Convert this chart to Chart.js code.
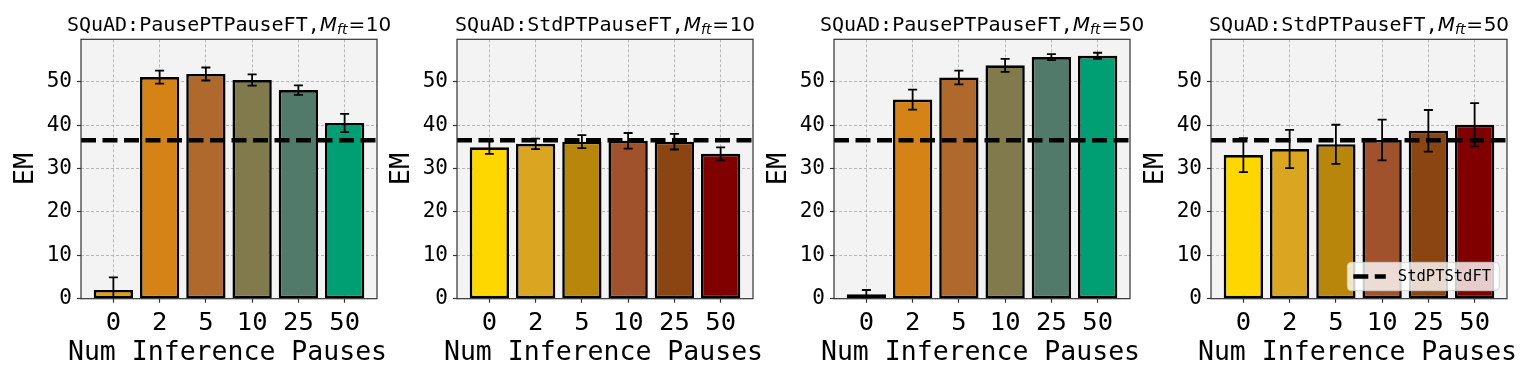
<!DOCTYPE html>
<html><head><meta charset="utf-8">
<script src="https://cdn.jsdelivr.net/npm/chart.js@4/dist/chart.umd.min.js"></script>
<style>
body{margin:0;background:#fff;width:1522px;height:381px;overflow:hidden;position:relative}
canvas{position:absolute;top:0}
</style>
</head><body>
<canvas id="c0" width="420" height="381" style="left:1px"></canvas>
<canvas id="c1" width="420" height="381" style="left:377px"></canvas>
<canvas id="c2" width="420" height="381" style="left:754px"></canvas>
<canvas id="c3" width="420" height="381" style="left:1131px"></canvas>
<script>
const categories = ['0', '2', '5', '10', '25', '50'];
const yTicks = [0, 10, 20, 30, 40, 50];
const xAxisTitle = 'Num Inference Pauses';
const yAxisTitle = 'EM';
const panelNames = ['PausePTPauseFT', 'StdPTPauseFT', 'PausePTPauseFT', 'StdPTPauseFT'];
const panelMft = ['10', '10', '50', '50'];
const emPausePT10 = [2.0, 51.1, 51.8, 50.4, 48.1, 40.5];
const errPausePT10 = [2.9, 1.5, 1.5, 1.3, 1.1, 2.1];
const emStdPT10 = [34.9, 35.7, 36.2, 36.4, 36.2, 33.4];
const errStdPT10 = [1.5, 1.2, 1.5, 1.8, 1.8, 1.5];
const emPausePT50 = [1.0, 45.9, 51.0, 53.8, 55.7, 56.0];
const errPausePT50 = [1.0, 2.3, 1.6, 1.5, 0.7, 0.7];
const emStdPT50 = [33.1, 34.5, 35.6, 36.6, 38.7, 40.1];
const errStdPT50 = [3.9, 4.4, 4.5, 4.7, 4.8, 5.0];
const baselineLabel = 'StdPTStdFT';
const baselineEM = 36.5;
const pauseColors = ['#E69F00', '#D58316', '#B0692D', '#807A4C', '#527A6A', '#009E73'];
const stdColors = ['#FFD700', '#DAA520', '#B8860B', '#A0522D', '#8B4513', '#800000'];

const panelValues = [emPausePT10, emStdPT10, emPausePT50, emStdPT50];
const panelErrors = [errPausePT10, errStdPT10, errPausePT50, errStdPT50];
const panelColors = [pauseColors, stdColors, pauseColors, stdColors];

const XMIN = -0.7, XMAX = categories.length - 0.3;
const MONO = 'DejaVu Sans Mono';

const framePlugin = {
  id: 'frame',
  beforeDraw(chart) {
    const a = chart.chartArea, ctx = chart.ctx;
    ctx.save();
    ctx.fillStyle = '#f3f3f3';
    ctx.fillRect(a.left, a.top, a.right - a.left, a.bottom - a.top);
    ctx.restore();
  },
  afterDraw(chart) {
    const a = chart.chartArea, ctx = chart.ctx;
    ctx.save();
    ctx.strokeStyle = '#333';
    ctx.lineWidth = 1.2;
    ctx.strokeRect(a.left, a.top, a.right - a.left, a.bottom - a.top);
    // x axis title (not width-constrained, as in the original)
    ctx.fillStyle = '#000';
    ctx.font = '26.5px "' + MONO + '"';
    ctx.textAlign = 'center';
    ctx.textBaseline = 'alphabetic';
    ctx.fillText(xAxisTitle, (a.left + a.right) / 2 - 1.5, 360);
    ctx.restore();
  }
};

const errorPlugin = {
  id: 'errbars',
  afterDatasetsDraw(chart, args, opts) {
    const ctx = chart.ctx, a = chart.chartArea;
    const xs = chart.scales.x, ys = chart.scales.y;
    const vals = opts.values, errs = opts.errors;
    ctx.save();
    ctx.beginPath();
    ctx.rect(a.left, a.top, a.right - a.left, a.bottom - a.top);
    ctx.clip();
    ctx.strokeStyle = '#000';
    ctx.lineWidth = 1.8;
    vals.forEach((v, i) => {
      const x = xs.getPixelForValue(i);
      const y1 = ys.getPixelForValue(v + errs[i]);
      const y2 = ys.getPixelForValue(v - errs[i]);
      ctx.beginPath();
      ctx.moveTo(x, y1); ctx.lineTo(x, y2);
      ctx.moveTo(x - 4.5, y1); ctx.lineTo(x + 4.5, y1);
      ctx.moveTo(x - 4.5, y2); ctx.lineTo(x + 4.5, y2);
      ctx.stroke();
    });
    ctx.restore();
  }
};

const titlePlugin = {
  id: 'mtitle',
  afterDraw(chart, args, opts) {
    const ctx = chart.ctx, a = chart.chartArea;
    const segs = [
      {t: 'SQuAD:' + opts.name + ',', f: '20px "' + MONO + '"', dy: 0, gap: 0},
      {t: 'M', f: 'italic 20px "DejaVu Sans"', dy: 0, gap: 0},
      {t: 'ft', f: 'italic 14px "DejaVu Sans"', dy: 3.5, gap: 1},
      {t: '=', f: '20px "DejaVu Sans"', dy: 0, gap: 0.5},
      {t: opts.mft, f: '20px "DejaVu Sans"', dy: 0, gap: 0}
    ];
    ctx.save();
    ctx.fillStyle = '#000';
    ctx.textBaseline = 'alphabetic';
    let total = 0;
    segs.forEach(s => { ctx.font = s.f; s.w = ctx.measureText(s.t).width + s.gap; total += s.w; });
    let x = (a.left + a.right) / 2 - total / 2;
    const y = 30.7;
    segs.forEach(s => { ctx.font = s.f; ctx.textAlign = 'left'; ctx.fillText(s.t, x, y + s.dy); x += s.w; });
    ctx.restore();
  }
};

const legendPlugin = {
  id: 'blegend',
  afterDraw(chart, args, opts) {
    if (!opts.show) return;
    const ctx = chart.ctx, a = chart.chartArea;
    const ds = chart.data.datasets.find(d => d.type === 'line');
    const w = 152, h = 28.4;
    const x0 = a.right - 7.7 - w, y0 = a.bottom - 8 - h;
    ctx.save();
    ctx.beginPath();
    ctx.roundRect(x0, y0, w, h, 4);
    ctx.fillStyle = 'rgba(255,255,255,0.8)';
    ctx.fill();
    ctx.strokeStyle = 'rgba(204,204,204,0.8)';
    ctx.lineWidth = 1;
    ctx.stroke();
    const cy = y0 + h / 2;
    ctx.beginPath();
    ctx.setLineDash(ds.borderDash);
    ctx.strokeStyle = ds.borderColor;
    ctx.lineWidth = ds.borderWidth;
    ctx.moveTo(x0 + 6, cy); ctx.lineTo(x0 + 38.5, cy);
    ctx.stroke();
    ctx.setLineDash([]);
    ctx.fillStyle = '#000';
    ctx.font = '15.5px "' + MONO + '"';
    ctx.textBaseline = 'middle';
    ctx.textAlign = 'left';
    ctx.fillText(ds.label, x0 + 50.5, cy);
    ctx.restore();
  }
};

function makeChart(idx) {
  const vals = panelValues[idx], errs = panelErrors[idx];
  new Chart(document.getElementById('c' + idx), {
    type: 'bar',
    data: {
      datasets: [
        {
          type: 'bar',
          data: vals.map((v, i) => ({x: i, y: v})),
          backgroundColor: panelColors[idx],
          borderColor: '#000',
          borderWidth: 2.6,
          borderSkipped: false,
          barPercentage: 0.85,
          categoryPercentage: 1,
          order: 2
        },
        {
          type: 'line',
          label: baselineLabel,
          data: [{x: XMIN, y: baselineEM}, {x: XMAX, y: baselineEM}],
          borderColor: '#000',
          borderWidth: 4.5,
          borderDash: [15, 6.5],
          pointRadius: 0,
          fill: false,
          order: 1
        }
      ]
    },
    options: {
      responsive: false,
      animation: false,
      devicePixelRatio: 1,
      layout: {padding: {top: 39.3, right: 44, left: 0, bottom: 0}},
      plugins: {
        legend: {display: false},
        tooltip: {enabled: false},
        errbars: {values: vals, errors: errs},
        mtitle: {name: panelNames[idx], mft: panelMft[idx]},
        blegend: {show: idx === 3}
      },
      scales: {
        x: {
          type: 'linear',
          min: XMIN, max: XMAX,
          offset: false,
          afterBuildTicks: s => { s.ticks = categories.map((_, i) => ({value: i})); },
          afterFit: s => { s.height = 82.3; },
          ticks: {
            callback: v => categories[v],
            font: {family: MONO, size: 25.5},
            color: '#000',
            padding: 5,
            maxRotation: 0,
            autoSkip: false
          },
          grid: {offset: false, color: '#a8a8a8', lineWidth: 0.8, tickLength: 4, tickColor: '#333', tickWidth: 1.2},
          border: {display: false, dash: [3, 2]},
          title: {display: false}
        },
        y: {
          min: 0, max: 59.8,
          afterBuildTicks: s => { s.ticks = yTicks.map(v => ({value: v})); },
          afterFit: s => { s.width = 80; },
          ticks: {font: {family: MONO, size: 21}, color: '#000', padding: 5},
          grid: {color: '#a8a8a8', lineWidth: 0.8, tickLength: 4, tickColor: '#333', tickWidth: 1.2},
          border: {display: false, dash: [3, 2]},
          title: {display: true, text: yAxisTitle, font: {family: MONO, size: 27}, color: '#000', padding: {top: 8.8, bottom: 0}}
        }
      }
    },
    plugins: [framePlugin, errorPlugin, titlePlugin, legendPlugin]
  });
}
[0, 1, 2, 3].forEach(makeChart);
</script>
</body></html>
